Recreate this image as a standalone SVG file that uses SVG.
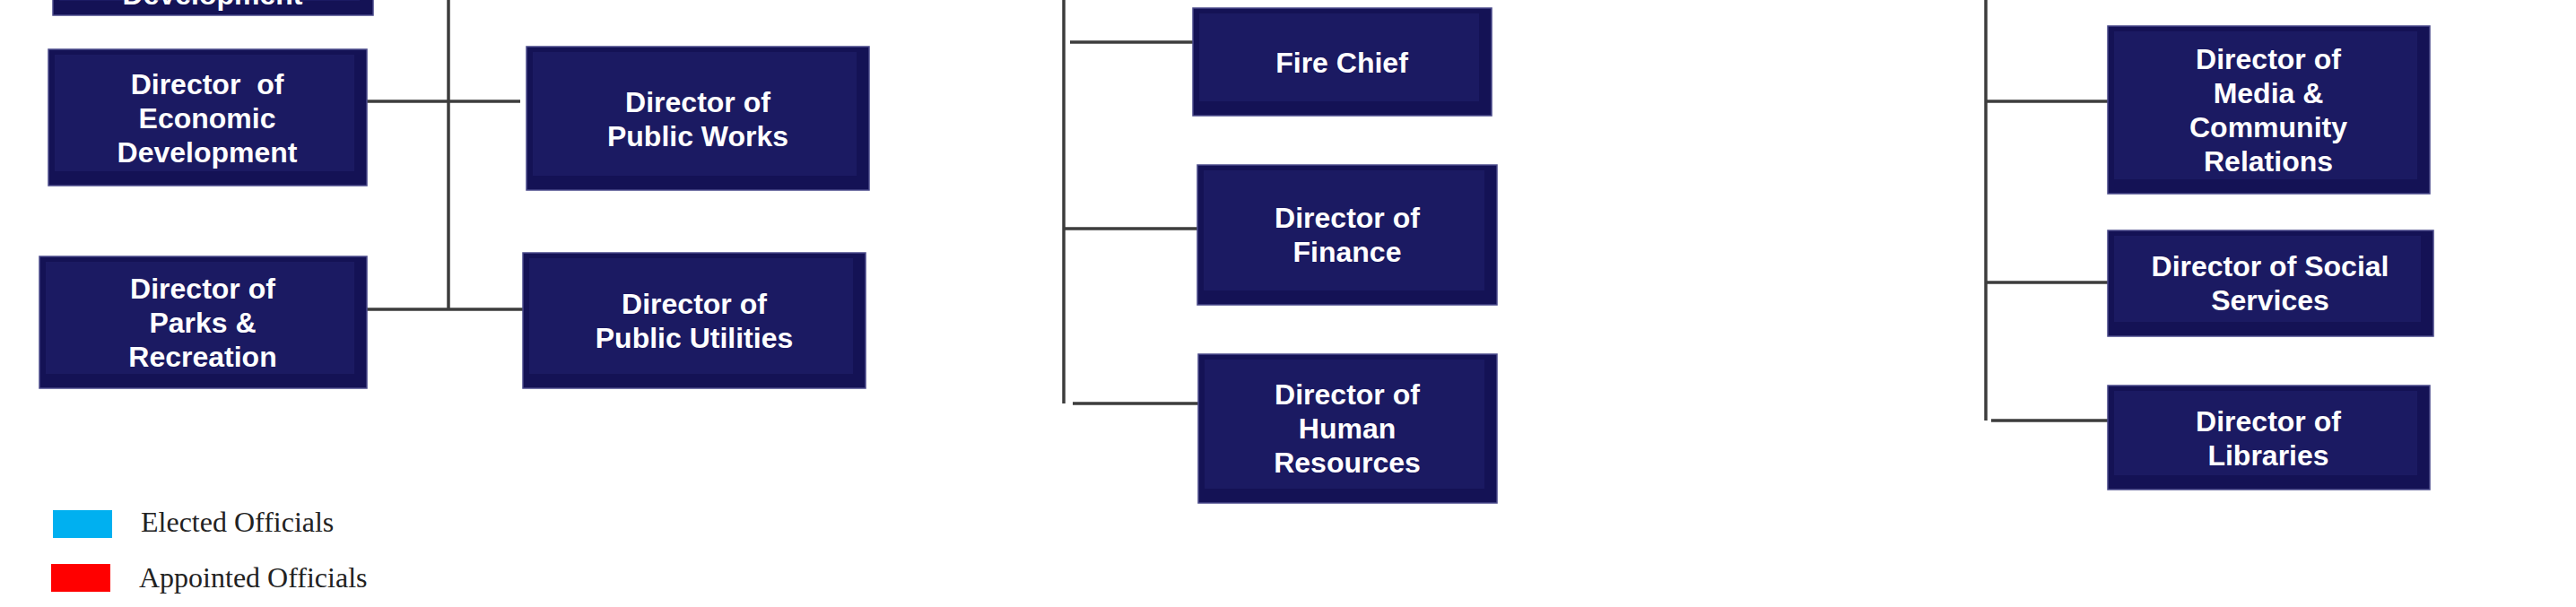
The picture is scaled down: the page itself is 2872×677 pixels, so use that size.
<svg xmlns="http://www.w3.org/2000/svg" width="2872" height="677" viewBox="0 0 2872 677">
<style>
.box{fill:#141255;stroke:#4a4a8a;stroke-width:1.5}
.inner{fill:#1b1a62}
.t{font-family:"Liberation Sans",Arial,sans-serif;font-weight:bold;font-size:32px;fill:#ffffff;text-anchor:middle}
.ln{stroke:#3d3d3d;stroke-width:3.5;fill:none}
.leg{font-family:"Liberation Serif","Times New Roman",serif;font-size:32px;fill:#222222}
</style>
<rect width="2872" height="677" fill="#ffffff"/>
<g id="connectors">
<path class="ln" d="M500 0V345M409 113H580M409 345H583"/>
<path class="ln" d="M1186 0V450M1193 47H1330M1186 255H1335M1196 450H1336"/>
<path class="ln" d="M2214 0V469M2214 113H2350M2214 315H2350M2220 469H2352"/>
</g>
<g id="dev-partial">
<rect class="box" x="59" y="-100" width="357" height="117"/>
<rect class="inner" x="66" y="-100" width="335" height="101"/>
<text class="t" x="237" y="5">Development</text>
</g>
<g id="econ">
<rect class="box" x="54" y="55" width="355" height="152"/>
<rect class="inner" x="61" y="61" width="334" height="130"/>
<text class="t" x="231" y="105" xml:space="preserve">Director  of</text>
<text class="t" x="231" y="143">Economic</text>
<text class="t" x="231" y="181">Development</text>
</g>
<g id="parks">
<rect class="box" x="44" y="286" width="365" height="147"/>
<rect class="inner" x="51" y="292" width="344" height="125"/>
<text class="t" x="226" y="333">Director of</text>
<text class="t" x="226" y="371">Parks &amp;</text>
<text class="t" x="226" y="409">Recreation</text>
</g>
<g id="public-works">
<rect class="box" x="587" y="52" width="382" height="160"/>
<rect class="inner" x="594" y="58" width="361" height="138"/>
<text class="t" x="778" y="125">Director of</text>
<text class="t" x="778" y="163">Public Works</text>
</g>
<g id="public-utilities">
<rect class="box" x="583" y="282" width="382" height="151"/>
<rect class="inner" x="590" y="288" width="361" height="129"/>
<text class="t" x="774" y="350">Director of</text>
<text class="t" x="774" y="388">Public Utilities</text>
</g>
<g id="fire-chief">
<rect class="box" x="1330" y="9" width="333" height="120"/>
<rect class="inner" x="1337" y="15" width="312" height="98"/>
<text class="t" x="1496" y="81">Fire Chief</text>
</g>
<g id="finance">
<rect class="box" x="1335" y="184" width="334" height="156"/>
<rect class="inner" x="1342" y="190" width="313" height="134"/>
<text class="t" x="1502" y="254">Director of</text>
<text class="t" x="1502" y="292">Finance</text>
</g>
<g id="human-resources">
<rect class="box" x="1336" y="395" width="333" height="166"/>
<rect class="inner" x="1343" y="401" width="312" height="144"/>
<text class="t" x="1502" y="451">Director of</text>
<text class="t" x="1502" y="489">Human</text>
<text class="t" x="1502" y="527">Resources</text>
</g>
<g id="media">
<rect class="box" x="2350" y="29" width="359" height="187"/>
<rect class="inner" x="2357" y="35" width="338" height="165"/>
<text class="t" x="2529" y="77">Director of</text>
<text class="t" x="2529" y="115">Media &amp;</text>
<text class="t" x="2529" y="153">Community</text>
<text class="t" x="2529" y="191">Relations</text>
</g>
<g id="social">
<rect class="box" x="2350" y="257" width="363" height="118"/>
<rect class="inner" x="2357" y="263" width="342" height="96"/>
<text class="t" x="2531" y="308">Director of Social</text>
<text class="t" x="2531" y="346">Services</text>
</g>
<g id="libraries">
<rect class="box" x="2350" y="430" width="359" height="116"/>
<rect class="inner" x="2357" y="436" width="338" height="94"/>
<text class="t" x="2529" y="481">Director of</text>
<text class="t" x="2529" y="519">Libraries</text>
</g>
<g id="legend">
<rect x="59" y="569" width="66" height="31" fill="#00b0f0"/>
<text class="leg" x="157" y="593">Elected Officials</text>
<rect x="57" y="629" width="66" height="31" fill="#ff0000"/>
<text class="leg" x="155" y="655">Appointed Officials</text>
</g>
</svg>
